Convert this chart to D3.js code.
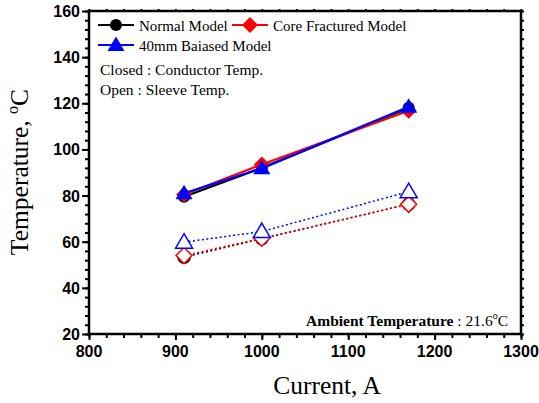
<!DOCTYPE html>
<html>
<head>
<meta charset="utf-8">
<script src="https://cdn.jsdelivr.net/npm/d3@7"></script>
<style>
  body { margin: 0; background: #fff; }
  svg { display: block; }
</style>
</head>
<body>
<div id="graph"></div>
<script>
// current values (A)
const currents = [910, 1000, 1170]

// closed symbols = conductor temperature
const normalConductor = [79.5, 92, 118]
const coreConductor = [80.5, 93.5, 116.8]
const biasedConductor = [81, 91.8, 118.5]

// open symbols = sleeve temperature
const normalSleeve = [53.3, 61.3, 76.3]
const coreSleeve = [54, 61.5, 76.2]
const biasedSleeve = [59.8, 64.4, 81.7]

const xTicks = [800, 900, 1000, 1100, 1200, 1300]
const yTicks = [20, 40, 60, 80, 100, 120, 140, 160]

const series = [
  { name: "Normal Model", color: "#000", shape: "circle", closed: normalConductor, open: normalSleeve },
  { name: "Core Fractured Model", color: "#ff0000", shape: "diamond", closed: coreConductor, open: coreSleeve },
  { name: "40mm Baiased Model", color: "#0000ff", shape: "triangle", closed: biasedConductor, open: biasedSleeve }
]

const SERIF = "'Liberation Serif', 'Times New Roman', serif"
const SANS = "'Liberation Sans', Arial, sans-serif"

const width = 539, height = 403
const padLeft = 89, padRight = 521, padTop = 11, padBottom = 334

const svg = d3.select("#graph").append("svg")
  .attr("width", width).attr("height", height)

const xScale = d3.scaleLinear().domain([800, 1300]).range([padLeft, padRight])
const yScale = d3.scaleLinear().domain([20, 160]).range([padBottom, padTop])

// symbol path for each shape
function markerPath(shape) {
  if (shape == "circle") return d3.symbol(d3.symbolCircle, 115)()
  if (shape == "diamond") return "M0,-8L8,0L0,8L-8,0Z"
  return "M0,-8.5L8.5,6L-8.5,6Z"
}

// minor + major ticks on all four sides
const xMinor = d3.range(800, 1301, 20)
const yMinor = d3.range(20, 161, 4)

svg.append("g").attr("transform", `translate(0,${padBottom})`)
  .call(d3.axisBottom(xScale).tickValues(xMinor).tickSize(4).tickFormat(""))
svg.append("g").attr("transform", `translate(0,${padBottom})`)
  .call(d3.axisBottom(xScale).tickValues(xTicks).tickSize(6).tickFormat(""))
svg.append("g").attr("transform", `translate(0,${padTop})`)
  .call(d3.axisTop(xScale).tickValues(xMinor).tickSize(2).tickFormat(""))
svg.append("g").attr("transform", `translate(${padLeft},0)`)
  .call(d3.axisLeft(yScale).tickValues(yMinor).tickSize(4).tickFormat(""))
svg.append("g").attr("transform", `translate(${padLeft},0)`)
  .call(d3.axisLeft(yScale).tickValues(yTicks).tickSize(7).tickFormat(""))
svg.append("g").attr("transform", `translate(${padRight},0)`)
  .call(d3.axisRight(yScale).tickValues(yMinor).tickSize(3).tickFormat(""))

svg.selectAll(".domain").remove()
svg.selectAll(".tick line").attr("stroke", "#000").attr("stroke-width", 2)

// frame
svg.append("rect")
  .attr("x", padLeft).attr("y", padTop)
  .attr("width", padRight - padLeft).attr("height", padBottom - padTop)
  .attr("fill", "none").attr("stroke", "#000").attr("stroke-width", 2.5)

// tick labels
svg.selectAll(".xlab").data(xTicks).enter().append("text")
  .style("font-family", SANS).style("font-weight", "bold").style("font-size", "16px")
  .attr("x", d => xScale(d)).attr("y", 357)
  .attr("text-anchor", "middle")
  .text(d => d)
svg.selectAll(".ylab").data(yTicks).enter().append("text")
  .style("font-family", SANS).style("font-weight", "bold").style("font-size", "16px")
  .attr("x", 80).attr("y", d => yScale(d) + 6)
  .attr("text-anchor", "end")
  .text(d => d)

// axis titles
svg.append("text").style("font-family", SERIF).style("font-size", "25.5px")
  .attr("x", 327).attr("y", 394).attr("text-anchor", "middle")
  .text("Current, A")
const yt = svg.append("text").style("font-family", SERIF).style("font-size", "25.5px")
  .attr("transform", "translate(28,172) rotate(-90)")
  .attr("text-anchor", "middle")
yt.append("tspan").text("Temperature, ")
yt.append("tspan").style("font-size", "16px").attr("dy", -10).text("o")
yt.append("tspan").attr("dy", 10).text("C")

// lines
const line = d3.line().x(d => xScale(d[0])).y(d => yScale(d[1]))

series.forEach(s => {
  svg.append("path")
    .datum(currents.map((c, i) => [c, s.open[i]]))
    .attr("d", line).attr("fill", "none")
    .attr("stroke", s.color).attr("stroke-width", 1.5)
    .attr("stroke-dasharray", "2,2.5")
})
series.forEach(s => {
  svg.selectAll(null)
    .data(currents.map((c, i) => [c, s.open[i]]))
    .enter().append("path")
    .attr("transform", d => `translate(${xScale(d[0])},${yScale(d[1])})`)
    .attr("d", markerPath(s.shape))
    .attr("fill", "#fff").attr("stroke", s.color).attr("stroke-width", 1.5)
})
series.forEach(s => {
  svg.append("path")
    .datum(currents.map((c, i) => [c, s.closed[i]]))
    .attr("d", line).attr("fill", "none")
    .attr("stroke", s.color).attr("stroke-width", 2.2)
  svg.selectAll(null)
    .data(currents.map((c, i) => [c, s.closed[i]]))
    .enter().append("path")
    .attr("transform", d => `translate(${xScale(d[0])},${yScale(d[1])})`)
    .attr("d", markerPath(s.shape))
    .attr("fill", s.color)
})

// legend
const legendPos = [[98, 25], [232, 25], [98, 45]]
series.forEach((s, i) => {
  const [lx, ly] = legendPos[i]
  const g = svg.append("g").attr("transform", `translate(${lx},${ly})`)
  g.append("line").attr("x1", 0).attr("x2", 36).attr("y1", 0).attr("y2", 0)
    .attr("stroke", s.color).attr("stroke-width", 2)
  g.append("path").attr("transform", "translate(18,0)")
    .attr("d", markerPath(s.shape)).attr("fill", s.color)
  g.append("text").style("font-family", SERIF).style("font-size", "15px")
    .attr("x", 41).attr("y", 5.5)
    .text(s.name)
})

svg.append("text").style("font-family", SERIF).style("font-size", "15.5px")
  .attr("x", 100).attr("y", 75).text("Closed : Conductor Temp.")
svg.append("text").style("font-family", SERIF).style("font-size", "15.5px")
  .attr("x", 100).attr("y", 95).text("Open : Sleeve Temp.")

// ambient note
const amb = svg.append("text").style("font-family", SERIF).style("font-size", "15.5px")
  .attr("x", 508).attr("y", 326).attr("text-anchor", "end")
amb.append("tspan").style("font-weight", "bold").text("Ambient Temperature")
amb.append("tspan").text(" :  21.6")
amb.append("tspan").style("font-size", "10px").attr("dy", -7).text("o")
amb.append("tspan").attr("dy", 7).text("C")
</script>
</body>
</html>
